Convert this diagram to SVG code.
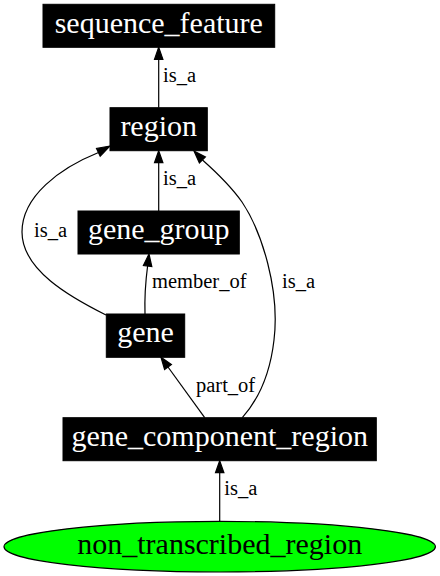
<svg xmlns="http://www.w3.org/2000/svg" width="440" height="576" viewBox="0 0 440 576">
<style>
.box{fill:#000;stroke:#000;stroke-width:1}
.nl{font-family:"Liberation Serif","Times New Roman",serif;font-size:30px;fill:#fff;text-anchor:middle}
.nlb{font-family:"Liberation Serif","Times New Roman",serif;font-size:30px;fill:#000;text-anchor:middle}
.el{font-family:"Liberation Serif","Times New Roman",serif;font-size:20.5px;fill:#000}
.e{fill:none;stroke:#000;stroke-width:1.2}
.ah{fill:#000;stroke:#000;stroke-width:1.2}
</style>
<rect width="440" height="576" fill="#fff"/>
<g id="connectors">
  <g id="e_region_seq">
    <path class="e" d="M158.7,107.7 L158.7,59.3"/>
    <polygon class="ah" points="158.7,47.3 154.5,59.3 162.9,59.3"/>
    <text class="el" x="163" y="82">is_a</text>
  </g>
  <g id="e_gg_region">
    <path class="e" d="M158.7,211 L158.7,162.7"/>
    <polygon class="ah" points="158.7,150.7 154.5,162.7 162.9,162.7"/>
    <text class="el" x="163" y="185">is_a</text>
  </g>
  <g id="e_gene_gg">
    <path class="e" d="M145,314 C144.5,298 145.5,282 147.6,266"/>
    <polygon class="ah" points="149,254 143.4,265.5 151.8,266.5"/>
    <text class="el" x="152" y="288.3">member_of</text>
  </g>
  <g id="e_gene_region">
    <path class="e" d="M106,315 C70,297 22,270 22,232 C22,196 60,168 98.5,152.5"/>
    <polygon class="ah" points="110,146 96.5,148.5 100.2,156.2"/>
    <text class="el" x="34" y="236.7">is_a</text>
  </g>
  <g id="e_gcr_region">
    <path class="e" d="M242.3,417.7 C258,400 270,375 274,340 C280,290 262,232 242,202 C230,185 216,172 202.5,160"/>
    <polygon class="ah" points="194,151 199.4,163 205.4,157"/>
    <text class="el" x="282" y="288.3">is_a</text>
  </g>
  <g id="e_gcr_gene">
    <path class="e" d="M204.7,417.7 L168,367"/>
    <polygon class="ah" points="161,357.3 164.6,369.5 171.4,364.6"/>
    <text class="el" x="196" y="392.3">part_of</text>
  </g>
  <g id="e_ntr_gcr">
    <path class="e" d="M219.7,521.3 L219.7,472.7"/>
    <polygon class="ah" points="219.7,460.7 215.5,472.7 223.9,472.7"/>
    <text class="el" x="224.3" y="495">is_a</text>
  </g>
</g>
<g id="sequence_feature">
  <rect class="box" x="43" y="4.3" width="231.7" height="43"/>
  <text class="nl" x="158.8" y="32.5">sequence_feature</text>
</g>
<g id="region">
  <rect class="box" x="110" y="107.7" width="97.3" height="43"/>
  <text class="nl" x="158.7" y="135.7">region</text>
</g>
<g id="gene_group">
  <rect class="box" x="78" y="211" width="161.3" height="43"/>
  <text class="nl" x="158.7" y="239.2">gene_group</text>
</g>
<g id="gene">
  <rect class="box" x="106.3" y="314" width="78.4" height="43.3"/>
  <text class="nl" x="145.5" y="342.2">gene</text>
</g>
<g id="gene_component_region">
  <rect class="box" x="63" y="417.7" width="313.3" height="43"/>
  <text class="nl" x="219.7" y="445.9">gene_component_region</text>
</g>
<g id="non_transcribed_region">
  <ellipse cx="219.7" cy="546.7" rx="215.7" ry="25.3" fill="#00ff00" stroke="#000" stroke-width="1.2"/>
  <text class="nlb" x="219.7" y="553.7">non_transcribed_region</text>
</g>
</svg>
